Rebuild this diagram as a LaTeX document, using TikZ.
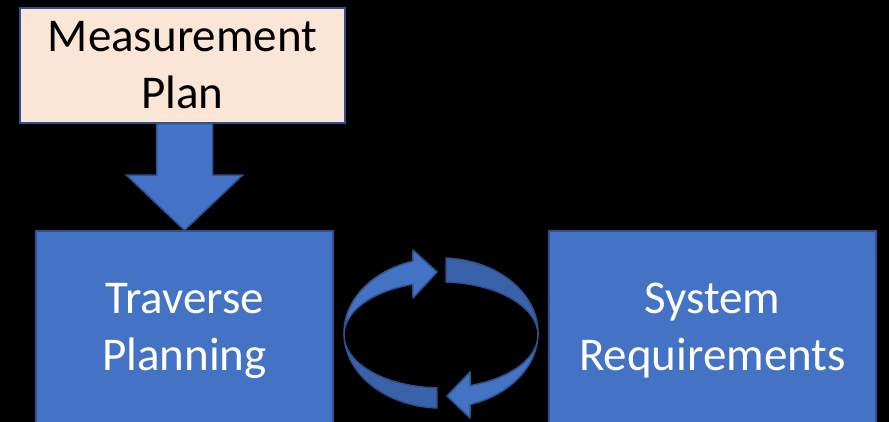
\documentclass[tikz,border=0pt]{standalone}
\usepackage{fontspec}
\setmainfont{Carlito}
\usetikzlibrary{calc}
\definecolor{boxblue}{HTML}{4472C4}
\definecolor{edgeblue}{HTML}{2F528F}
\definecolor{darkband}{HTML}{3A62AA}
\definecolor{peach}{HTML}{FBE5D6}
\tikzset{
  boxbase/.style={draw=edgeblue, line width=1.5pt, align=center, inner sep=0pt,
    font=\fontsize{47}{57}\selectfont},
  planbox/.style={boxbase, fill=peach, text=black},
  bluebox/.style={boxbase, fill=boxblue, text=white},
  blockarrow/.style={fill=boxblue, draw=edgeblue, line width=1.5pt, line join=miter},
  lightband/.style={fill=boxblue, draw=edgeblue, line width=1.5pt, line join=round},
  darkband/.style={fill=darkband, draw=edgeblue, line width=1.5pt, line join=round}
}
\begin{document}
\begin{tikzpicture}[x=1pt,y=-1pt]
\fill[black] (0,0) rectangle (889,422);
\useasboundingbox (0,0) rectangle (889,422);
\clip (0,0) rectangle (889,422);

\node[planbox, minimum width=325pt, minimum height=115pt] (mp) at (182.5,65.5) {Measurement\\Plan};
\node[bluebox, minimum width=297pt, minimum height=200pt] (tp) at (184.5,331) {Traverse\\Planning};
\node[bluebox, minimum width=327pt, minimum height=200pt] (sr) at (712.5,331) {System\\Requirements};

% block arrow from Measurement Plan to Traverse Planning
\coordinate (tip) at (tp.north);
\filldraw[blockarrow] (tip) -- ($(tip)+(-58,-55)$) -- ($(tip)+(-28,-55)$)
  -- ($(tip |- mp.south)+(-28,0)$) -- ($(tip |- mp.south)+(28,0)$)
  -- ($(tip)+(28,-55)$) -- ($(tip)+(58,-55)$) -- cycle;

% cycle arrows
\filldraw[darkband] plot[domain=180:92.4, samples=40] ({441+97*cos(\x)},{333+75*sin(\x)})
  -- plot[domain=92.4:180, samples=40] ({441+97*cos(\x)},{335+53*sin(\x)}) -- cycle;
\filldraw[darkband] plot[domain=273:360, samples=40] ({441+97*cos(\x)},{333+75*sin(\x)})
  -- plot[domain=360:273, samples=40] ({441+97*cos(\x)},{335+53*sin(\x)}) -- cycle;
\filldraw[lightband] plot[domain=180:253.2, samples=40] ({441+97*cos(\x)},{333+75*sin(\x)})
  -- (413,250) -- (437,272) -- (413,298)
  -- plot[domain=253.2:180, samples=40] ({441+97*cos(\x)},{335+53*sin(\x)}) -- cycle;
\filldraw[lightband] plot[domain=0:72.6, samples=40] ({441+97*cos(\x)},{333+75*sin(\x)})
  -- (470,418) -- (447,396) -- (470,372)
  -- plot[domain=72.6:0, samples=40] ({441+97*cos(\x)},{335+53*sin(\x)}) -- cycle;
\end{tikzpicture}
\end{document}
